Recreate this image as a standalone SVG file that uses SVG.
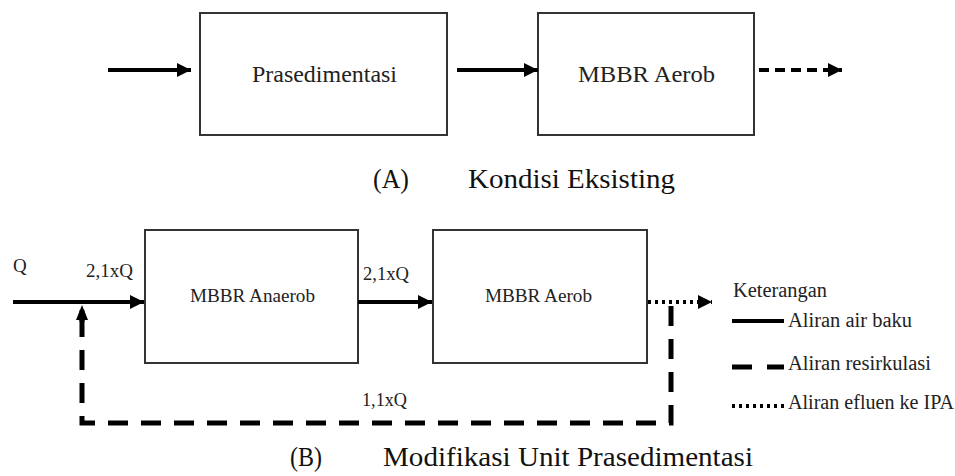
<svg xmlns="http://www.w3.org/2000/svg" width="955" height="476" viewBox="0 0 955 476">
<style>
.box{fill:#fff;stroke:#333;stroke-width:2}
.ln{fill:none;stroke:#000;stroke-width:4}
.t{font-family:"Liberation Serif","Times New Roman",serif;fill:#222}
.cap{font-family:"Liberation Serif","Times New Roman",serif;font-size:27px;fill:#111}
</style>
<defs>
<marker id="ah" markerUnits="userSpaceOnUse" markerWidth="16" markerHeight="16" refX="14" refY="8" orient="auto">
<path d="M0,1 L14,8 L0,15 Z" fill="#000"/>
</marker>
</defs>
<rect width="955" height="476" fill="#fff"/>
<g id="n-prased"><rect class="box" x="200" y="13" width="247" height="122"/><text class="t" x="252" y="82" font-size="24" textLength="145" lengthAdjust="spacingAndGlyphs">Prasedimentasi</text></g>
<g id="n-aerobA"><rect class="box" x="538" y="13" width="216" height="122"/><text class="t" x="578" y="82" font-size="24" textLength="137" lengthAdjust="spacingAndGlyphs">MBBR Aerob</text></g>
<g id="n-anaerob"><rect class="box" x="145" y="230" width="213" height="133"/><text class="t" x="190" y="302" font-size="19" textLength="125" lengthAdjust="spacingAndGlyphs">MBBR Anaerob</text></g>
<g id="n-aerobB"><rect class="box" x="433" y="230" width="214" height="133"/><text class="t" x="485" y="302" font-size="19" textLength="107" lengthAdjust="spacingAndGlyphs">MBBR Aerob</text></g>
<g id="connectors">
<line class="ln" x1="108" y1="70" x2="191" y2="70" marker-end="url(#ah)"/>
<line class="ln" x1="457" y1="70" x2="538" y2="70" marker-end="url(#ah)"/>
<line class="ln" x1="759" y1="70" x2="842" y2="70" stroke-dasharray="10,6" marker-end="url(#ah)"/>
<line class="ln" x1="13" y1="302" x2="144" y2="302" marker-end="url(#ah)"/>
<line class="ln" x1="358" y1="302" x2="432" y2="302" marker-end="url(#ah)"/>
<line class="ln" x1="648" y1="302" x2="712" y2="302" stroke-dasharray="3,4" marker-end="url(#ah)"/>
<path d="M671,306 V423 H82 V320" fill="none" stroke="#000" stroke-width="5" stroke-dasharray="20,13"/>
<path d="M82,322 V310" fill="none" stroke="#000" stroke-width="5"/>
<path d="M76,320 L82,305 L88,320 Z" fill="#000"/>
<text class="t" x="13" y="272" font-size="19">Q</text>
<text class="t" x="86" y="277" font-size="19" textLength="47" lengthAdjust="spacingAndGlyphs">2,1xQ</text>
<text class="t" x="363" y="280" font-size="19" textLength="46" lengthAdjust="spacingAndGlyphs">2,1xQ</text>
<text class="t" x="362" y="406" font-size="19" textLength="45" lengthAdjust="spacingAndGlyphs">1,1xQ</text>
</g>
<g id="legend">
<text class="t" x="733" y="297" font-size="20" textLength="94" lengthAdjust="spacingAndGlyphs">Keterangan</text>
<line x1="732" y1="321" x2="784" y2="321" stroke="#000" stroke-width="4"/>
<text class="t" x="788" y="327" font-size="20" textLength="124" lengthAdjust="spacingAndGlyphs">Aliran air baku</text>
<line x1="732" y1="367" x2="752" y2="367" stroke="#000" stroke-width="5"/>
<line x1="767" y1="367" x2="784" y2="367" stroke="#000" stroke-width="5"/>
<text class="t" x="788" y="370" font-size="20" textLength="143" lengthAdjust="spacingAndGlyphs">Aliran resirkulasi</text>
<line x1="732" y1="406" x2="786" y2="406" stroke="#000" stroke-width="4" stroke-dasharray="3,4"/>
<text class="t" x="788" y="409" font-size="20" textLength="166" lengthAdjust="spacingAndGlyphs">Aliran efluen ke IPA</text>
</g>
<g id="captions">
<text class="cap" x="373" y="188" textLength="36" lengthAdjust="spacingAndGlyphs">(A)</text>
<text class="cap" x="468" y="188" textLength="207" lengthAdjust="spacingAndGlyphs">Kondisi Eksisting</text>
<text class="cap" x="290" y="466" textLength="32" lengthAdjust="spacingAndGlyphs">(B)</text>
<text class="cap" x="383" y="466" textLength="370" lengthAdjust="spacingAndGlyphs">Modifikasi Unit Prasedimentasi</text>
</g>
</svg>
